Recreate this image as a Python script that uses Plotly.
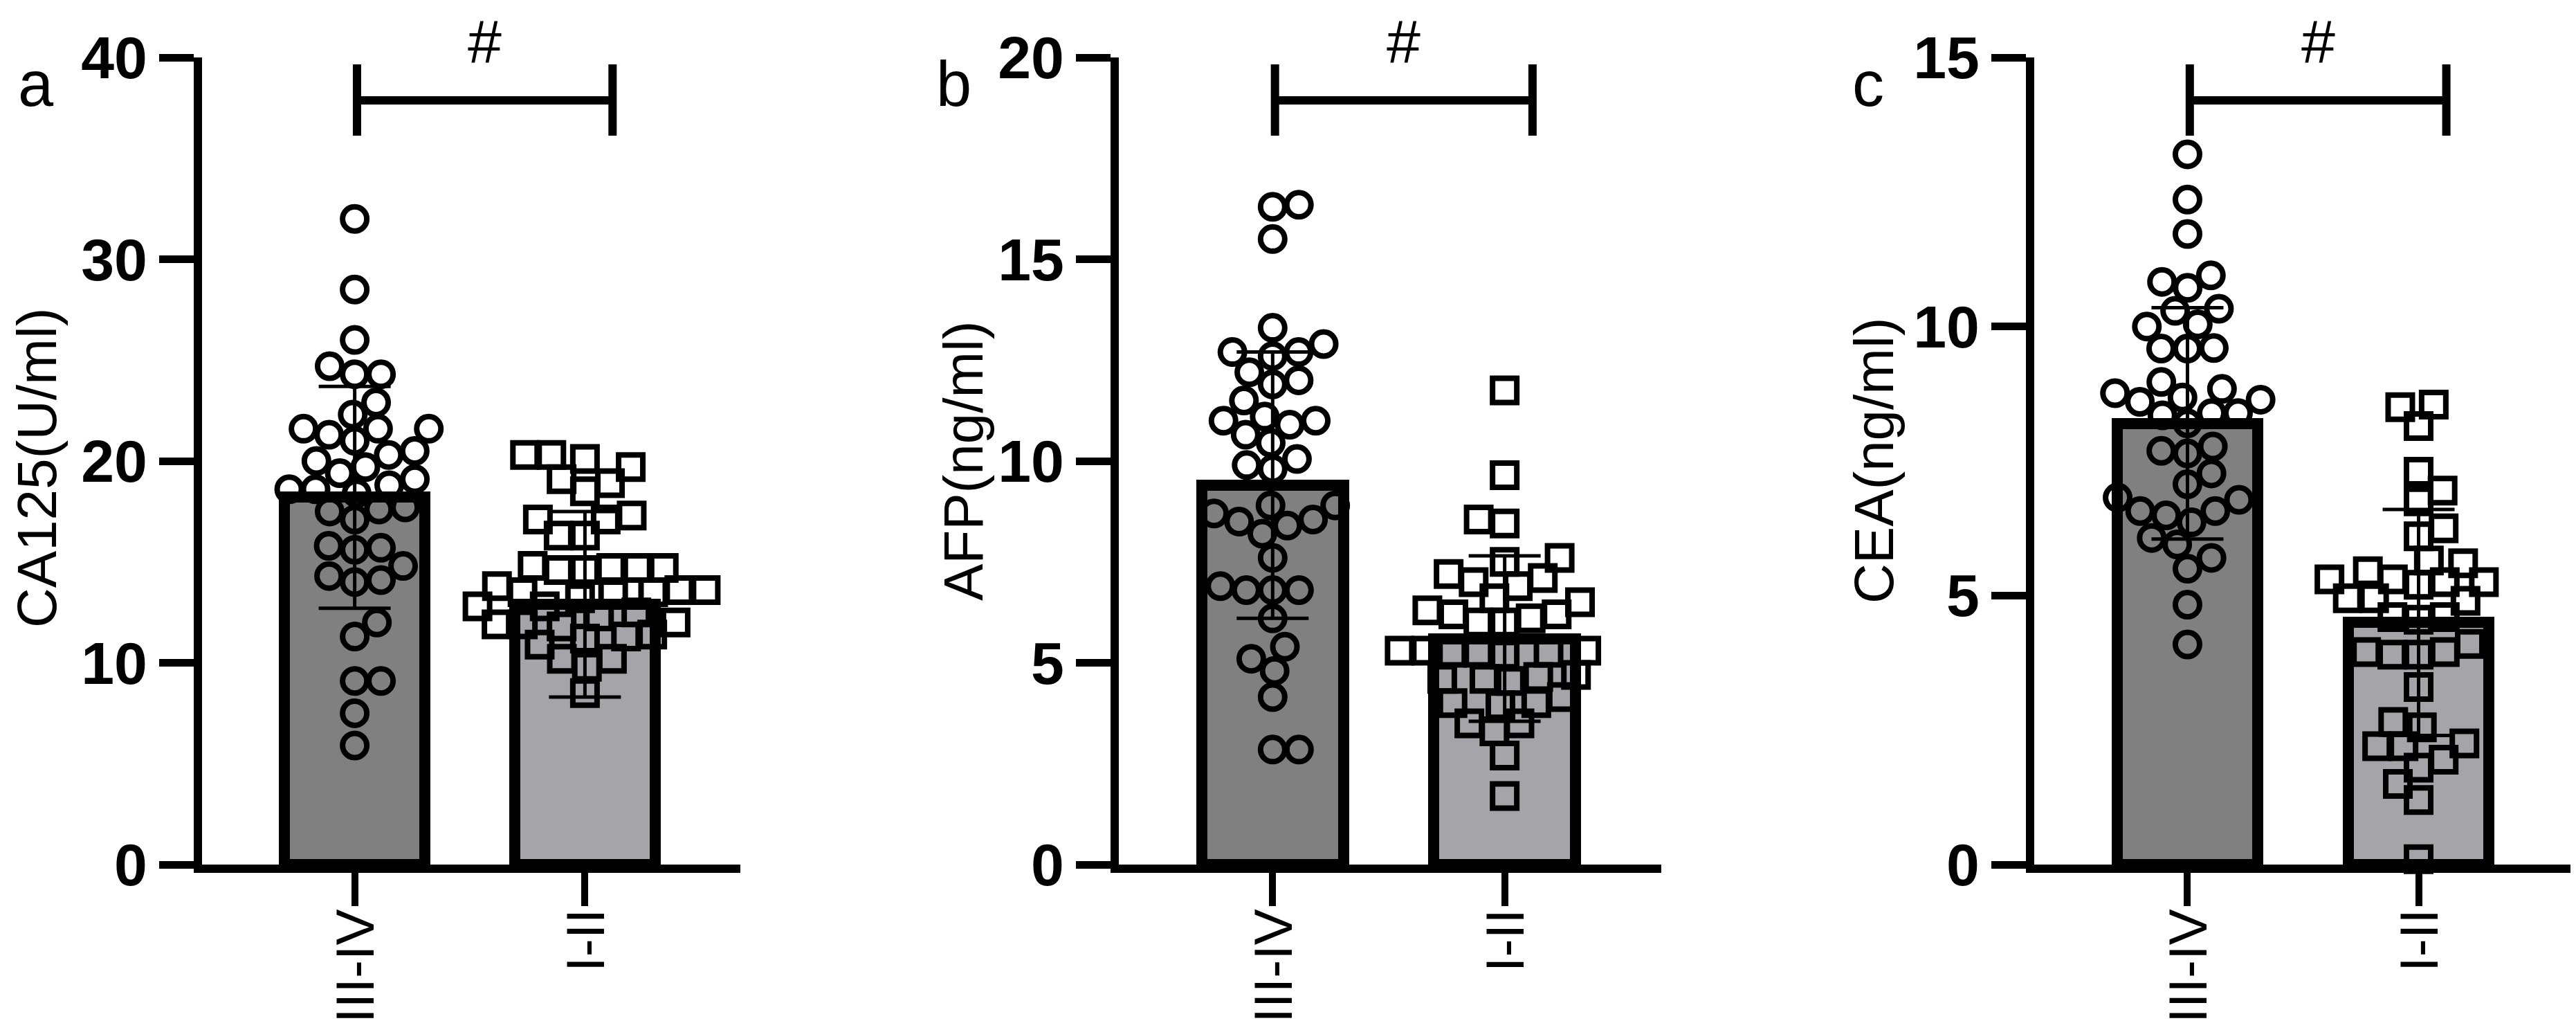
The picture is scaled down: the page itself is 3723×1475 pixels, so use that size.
import numpy as np
import plotly.graph_objects as go

W, H = 3723, 1475

# ---------------- data ----------------
groups = ["III-IV", "I-II"]

ca125_stage34 = [32.0, 28.5, 26.0, 24.7, 24.3, 24.3, 22.9, 22.3, 21.6, 21.6, 21.6, 21.0, 21.3,
                 20.5, 20.3, 20.0, 19.7, 19.1, 19.4, 18.8, 18.6, 18.6, 18.4, 17.7, 17.1, 17.6,
                 17.5, 15.6, 15.8, 15.7, 14.8, 14.0, 14.3, 14.1, 12.0, 11.3, 9.1, 9.1, 7.5, 5.9]
ca125_stage12 = [20.3, 20.1, 20.3, 19.7, 19.1, 18.9, 18.5, 17.3, 17.1, 17.1, 16.3, 16.3,
                 14.7, 14.7, 14.6, 14.8, 14.7, 14.6,
                 13.6, 13.5, 13.8, 13.6, 13.4, 13.5, 13.2,
                 12.8, 12.8, 12.5, 12.3,
                 11.9, 11.9, 12.0, 11.8,
                 11.3, 11.2, 11.4, 10.9,
                 10.2, 10.2, 9.8, 8.5]
ca125_mean = [18.2, 12.9]
ca125_sd = [5.5, 4.6]

afp_stage34 = [16.35, 16.3, 15.5, 13.3, 12.9, 12.7, 12.7, 12.6, 12.2, 12.0, 11.9, 11.5, 10.9,
               11.0, 11.1, 11.0, 10.65, 10.45, 9.9, 10.05, 9.8, 8.9, 8.9, 8.4, 8.55, 8.7, 8.5,
               8.2, 7.6, 6.9, 6.8, 6.8, 6.8, 6.1, 5.4, 5.1, 4.8, 4.15, 2.85, 2.85]
afp_stage12 = [11.75, 9.65, 8.45, 8.55, 7.6, 7.5, 7.1, 7.2, 7.0, 6.9,
               6.5, 6.6, 6.0, 6.3, 6.2, 6.2, 6.1, 6.0,
               5.3, 5.25, 5.25, 5.3, 5.25, 5.3, 5.2,
               4.6, 4.6, 4.55, 4.65, 4.7,
               4.0, 4.15, 4.0, 3.95,
               3.5, 3.5, 3.3, 2.7, 1.7]
afp_mean = [9.4, 5.6]
afp_sd = [3.3, 2.05]

cea_stage34 = [13.2, 12.36, 11.72, 10.95, 10.83, 10.72, 10.29, 10.33, 10.04, 10.0, 9.59, 9.59,
               9.6, 8.97, 8.68, 8.76, 8.6, 8.84, 8.64, 8.39, 8.39, 8.35, 8.2, 7.69, 7.77, 7.64,
               7.27, 7.07, 6.82, 6.78, 6.57, 6.57, 6.49, 6.36, 5.95, 6.07, 5.70, 5.50, 4.83, 4.09]
cea_stage12 = [8.55, 8.5, 8.15, 7.3, 6.95, 6.75, 6.25, 6.1, 5.65, 5.6, 5.45,
               5.3, 5.25, 5.2, 5.3, 5.25,
               4.95, 4.9, 4.95, 4.6, 4.6, 4.55,
               4.1, 3.95, 3.9, 3.95, 3.9,
               3.3, 2.55, 2.65, 2.2, 2.25, 2.2, 1.95, 1.8, 1.5, 1.2, 0.1]
cea_mean = [8.2, 4.5]
cea_sd = [2.15, 2.1]

panel_letters = ["a", "b", "c"]
y_titles = ["CA125(U/ml)", "AFP(ng/ml)", "CEA(ng/ml)"]
y_max = [40, 20, 15]
y_ticks = [[0, 10, 20, 30, 40], [0, 5, 10, 15, 20], [0, 5, 10, 15]]
sig_label = "#"

panels = [
    (ca125_stage34, ca125_stage12, ca125_mean, ca125_sd),
    (afp_stage34, afp_stage12, afp_mean, afp_sd),
    (cea_stage34, cea_stage12, cea_mean, cea_sd),
]

# ---------------- layout geometry (pixels) ----------------
axis_left_px = [284, 1609, 2932]
axis_right_px = [1062, 2393, 3713]
y_bottom_px, y_top_px = 1241, 75
x_range = [-0.663, 1.675]
title_x_px = [45, 1384, 2700]
title_y_px = [668, 658, 658]
letter_x_px = [44, 1370, 2692]
xlabel_top_px = 1304

FONT = "Arial, Liberation Sans, Helvetica, sans-serif"
bar_colors = ["#808080", "#a5a4a8"]


def px_x(p):
    return p / W


def px_y(p):
    return 1 - p / H


def beeswarm(vals, ppu_y, ppu_x, d=38.0):
    vals = np.asarray(vals, dtype=float)
    order = np.argsort(vals, kind="stable")
    placed = []
    xs = np.zeros(len(vals))
    for i in order:
        y = vals[i] * ppu_y
        forb = []
        for (qx, qy) in placed:
            dy = abs(qy - y)
            if dy < d:
                h = np.sqrt(d * d - dy * dy)
                forb.append((qx - h, qx + h))
        cands = [0.0] + [c for (lo, hi) in forb for c in (lo, hi)]
        cands = sorted(cands, key=lambda c: (round(abs(c), 6), -c if len(placed) % 2 else c))
        x = 0.0
        for c in cands:
            if all(not (lo + 1e-6 < c < hi - 1e-6) for lo, hi in forb):
                x = c
                break
        placed.append((x, y))
        xs[i] = x / ppu_x
    return xs


fig = go.Figure()
layout = dict(
    template="none",
    width=W, height=H,
    margin=dict(l=0, r=0, t=0, b=0, pad=0, autoexpand=False),
    paper_bgcolor="white", plot_bgcolor="rgba(0,0,0,0)",
    showlegend=False, bargap=0,
)
annotations = []
shapes = []

for k, (g1, g2, means, sds) in enumerate(panels):
    n = "" if k == 0 else str(k + 1)
    xa, ya = "x" + n, "y" + n
    dom_w = axis_right_px[k] - axis_left_px[k]
    ppu_x = dom_w / (x_range[1] - x_range[0])
    ppu_y = (y_bottom_px - y_top_px) / y_max[k]

    fig.add_trace(go.Bar(
        x=[0, 1], y=means, width=0.61,
        marker=dict(color=bar_colors, line=dict(color="black", width=16)),
        xaxis=xa, yaxis=ya, hoverinfo="skip"))

    for gi, (vals, sym) in enumerate([(g1, "circle-open"), (g2, "square-open")]):
        xs = gi + beeswarm(vals, ppu_y, ppu_x)
        fig.add_trace(go.Scatter(
            x=xs, y=vals, mode="markers", cliponaxis=False,
            marker=dict(symbol=sym, size=35, color="black",
                        line=dict(width=8, color="black")),
            xaxis=xa, yaxis=ya))

    fig.add_trace(go.Scatter(
        x=[0, 1], y=means, mode="markers",
        marker=dict(size=1, color="rgba(0,0,0,0)"),
        error_y=dict(type="data", array=sds, visible=True, width=52,
                     thickness=5, color="black"),
        xaxis=xa, yaxis=ya, hoverinfo="skip"))

    layout["xaxis" + n] = dict(
        domain=[px_x(axis_left_px[k]), px_x(axis_right_px[k])],
        range=x_range, anchor=ya, automargin=False,
        tickmode="array", tickvals=[0, 1], showticklabels=False,
        ticks="outside", ticklen=48, tickwidth=10, tickcolor="black",
        showline=True, linewidth=12, linecolor="black",
        showgrid=False, zeroline=False)
    layout["yaxis" + n] = dict(
        domain=[px_y(y_bottom_px), px_y(y_top_px)],
        range=[0, y_max[k]], anchor=xa, automargin=False,
        tickmode="array", tickvals=y_ticks[k],
        ticktext=[str(t) for t in y_ticks[k]],
        ticks="outside", ticklen=50, tickwidth=11, tickcolor="black",
        showline=True, linewidth=12, linecolor="black",
        showgrid=False, zeroline=False,
        tickfont=dict(family=FONT, size=86, color="black", weight="bold"))

    # category labels (rotated)
    for gi, g in enumerate(groups):
        annotations.append(dict(
            text=g, xref=xa, yref="paper", x=gi, y=px_y(xlabel_top_px),
            xanchor="center", yanchor="top", textangle=-90, showarrow=False,
            borderpad=0, font=dict(family=FONT, size=78, color="black")))
    # axis title
    annotations.append(dict(
        text=y_titles[k], xref="paper", yref="paper",
        x=px_x(title_x_px[k]), y=px_y(title_y_px[k]),
        xanchor="center", yanchor="middle", textangle=-90, showarrow=False,
        font=dict(family=FONT, size=80, color="black")))
    # panel letter
    annotations.append(dict(
        text=panel_letters[k], xref="paper", yref="paper",
        x=px_x(letter_x_px[k]), y=px_y(150), xanchor="center", yanchor="bottom",
        yshift=-16, showarrow=False,
        font=dict(family=FONT, size=92, color="black")))
    # significance bracket
    bl, br = 0.01, 1.12
    for (x0, y0, x1, y1) in [(bl, 137, br, 137), (bl, 85, bl, 188), (br, 85, br, 188)]:
        shapes.append(dict(type="line", xref=xa, yref="paper",
                           x0=x0, x1=x1, y0=px_y(y0), y1=px_y(y1),
                           line=dict(color="black", width=12)))
    annotations.append(dict(
        text=sig_label, xref=xa, yref="paper", x=(bl + br) / 2, y=px_y(1),
        xanchor="center", yanchor="top", showarrow=False, borderpad=0,
        font=dict(family=FONT, size=88, color="black")))

layout["annotations"] = annotations
layout["shapes"] = shapes
fig.update_layout(**layout)
fig.write_html("out.html")
